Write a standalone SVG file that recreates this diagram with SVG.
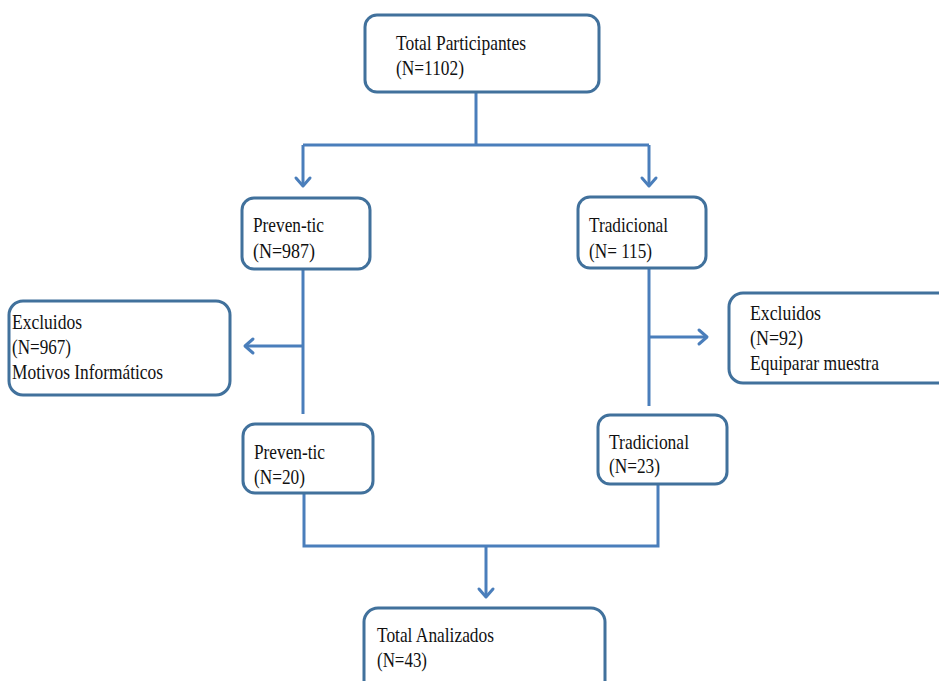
<svg xmlns="http://www.w3.org/2000/svg" width="939" height="681" viewBox="0 0 939 681">
  <style>
    .box { fill: #ffffff; stroke: #41719C; stroke-width: 3; }
    .lbl { font-family: "Liberation Serif", "Times New Roman", serif; font-size: 21px; fill: #111111; }
    .wire { fill: none; stroke: #4A7EBB; stroke-width: 3; }
  </style>
  <defs>
    <marker id="arrow" markerUnits="userSpaceOnUse" markerWidth="20" markerHeight="20" viewBox="-12 -10 14 20" refX="0" refY="0" orient="auto">
      <path d="M-8,-7 L0,0 L-8,7" fill="none" stroke="#4A7EBB" stroke-width="3" stroke-linecap="round" stroke-linejoin="round"/>
    </marker>
  </defs>
  <rect width="939" height="681" fill="#ffffff"/>

  <!-- connectors -->
  <g id="connectors">
    <path class="wire" d="M476,92 V145"/>
    <path class="wire" d="M303,145 H649"/>
    <path class="wire" d="M303,145 V186" marker-end="url(#arrow)"/>
    <path class="wire" d="M649,145 V186" marker-end="url(#arrow)"/>
    <path class="wire" d="M303,269 V414"/>
    <path class="wire" d="M303,346 H245" marker-end="url(#arrow)"/>
    <path class="wire" d="M649,268 V406"/>
    <path class="wire" d="M649,337 H707" marker-end="url(#arrow)"/>
    <path class="wire" d="M304,493 V546 H658 V484"/>
    <path class="wire" d="M486,546 V597" marker-end="url(#arrow)"/>
  </g>

  <!-- nodes -->
  <g id="total-participantes">
    <rect class="box" x="365" y="15" width="234" height="77" rx="12"/>
    <text class="lbl" x="396" y="50" textLength="130" lengthAdjust="spacingAndGlyphs">Total Participantes</text>
    <text class="lbl" x="396" y="75" textLength="68" lengthAdjust="spacingAndGlyphs">(N=1102)</text>
  </g>

  <g id="preven-tic-1">
    <rect class="box" x="242" y="198" width="128" height="71" rx="12"/>
    <text class="lbl" x="253" y="232" textLength="71" lengthAdjust="spacingAndGlyphs">Preven-tic</text>
    <text class="lbl" x="253" y="258" textLength="62" lengthAdjust="spacingAndGlyphs">(N=987)</text>
  </g>

  <g id="tradicional-1">
    <rect class="box" x="578" y="197" width="128" height="71" rx="12"/>
    <text class="lbl" x="589" y="232" textLength="79" lengthAdjust="spacingAndGlyphs">Tradicional</text>
    <text class="lbl" x="589" y="258" textLength="63" lengthAdjust="spacingAndGlyphs">(N= 115)</text>
  </g>

  <g id="excluidos-left">
    <rect class="box" x="9" y="301" width="221" height="94" rx="14"/>
    <text class="lbl" x="12" y="329" textLength="70" lengthAdjust="spacingAndGlyphs">Excluidos</text>
    <text class="lbl" x="12" y="354" textLength="59" lengthAdjust="spacingAndGlyphs">(N=967)</text>
    <text class="lbl" x="12" y="379" textLength="151" lengthAdjust="spacingAndGlyphs">Motivos Informáticos</text>
  </g>

  <g id="excluidos-right">
    <rect class="box" x="729" y="293" width="240" height="90" rx="14"/>
    <text class="lbl" x="750" y="320" textLength="71" lengthAdjust="spacingAndGlyphs">Excluidos</text>
    <text class="lbl" x="750" y="345" textLength="53" lengthAdjust="spacingAndGlyphs">(N=92)</text>
    <text class="lbl" x="750" y="370" textLength="129" lengthAdjust="spacingAndGlyphs">Equiparar muestra</text>
  </g>

  <g id="preven-tic-2">
    <rect class="box" x="243" y="424" width="130" height="69" rx="12"/>
    <text class="lbl" x="254" y="459" textLength="71" lengthAdjust="spacingAndGlyphs">Preven-tic</text>
    <text class="lbl" x="254" y="484" textLength="51" lengthAdjust="spacingAndGlyphs">(N=20)</text>
  </g>

  <g id="tradicional-2">
    <rect class="box" x="598" y="415" width="129" height="69" rx="12"/>
    <text class="lbl" x="609" y="449" textLength="80" lengthAdjust="spacingAndGlyphs">Tradicional</text>
    <text class="lbl" x="609" y="473" textLength="51" lengthAdjust="spacingAndGlyphs">(N=23)</text>
  </g>

  <g id="total-analizados">
    <rect class="box" x="364" y="608" width="241" height="90" rx="14"/>
    <text class="lbl" x="377" y="642" textLength="117" lengthAdjust="spacingAndGlyphs">Total Analizados</text>
    <text class="lbl" x="377" y="667" textLength="50" lengthAdjust="spacingAndGlyphs">(N=43)</text>
  </g>
</svg>
